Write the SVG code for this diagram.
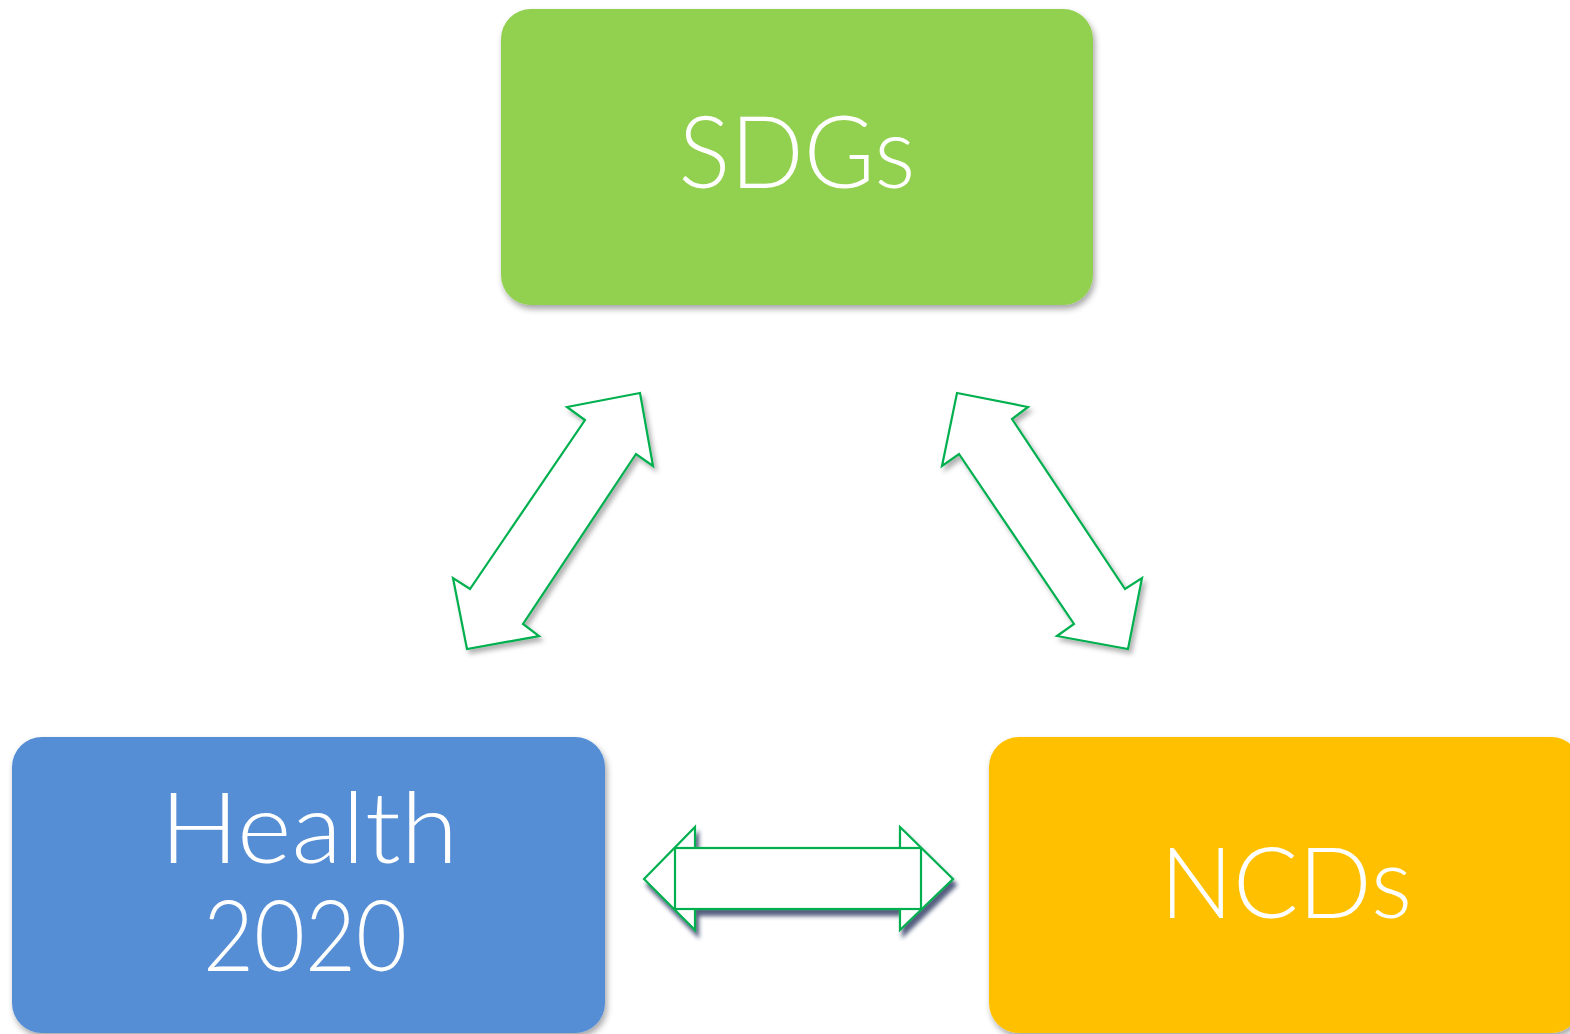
<svg xmlns="http://www.w3.org/2000/svg" width="1570" height="1034" viewBox="0 0 1570 1034">
  <defs>
    <filter id="boxShadow" x="-10%" y="-10%" width="120%" height="125%">
      <feDropShadow dx="2" dy="4" stdDeviation="3" flood-color="#000" flood-opacity="0.35"/>
    </filter>
    <filter id="arrowShadow" x="-20%" y="-20%" width="140%" height="140%">
      <feDropShadow dx="3" dy="4" stdDeviation="2.5" flood-color="#000" flood-opacity="0.3"/>
    </filter>
    <filter id="barShadow" x="-10%" y="-20%" width="120%" height="150%">
      <feDropShadow dx="3" dy="6" stdDeviation="2.2" flood-color="#1f2a55" flood-opacity="0.75"/>
    </filter>
  </defs>
  <style>
    .box { filter: url(#boxShadow); }
    .label { font-family: "Lato", "Open Sans", "Liberation Sans", sans-serif; font-weight: 300; fill: #ffffff; text-anchor: middle; }
    .arrow { fill: #ffffff; stroke: #00b050; stroke-width: 2.2; stroke-linejoin: miter; }
  </style>

  <rect width="1570" height="1034" fill="#ffffff"/>

  <!-- top node -->
  <g id="node-sdgs">
    <rect class="box" x="501" y="9" width="592" height="296" rx="30" fill="#92d050"/>
    <text class="label" x="797" y="188" font-size="100" textLength="237" lengthAdjust="spacingAndGlyphs">SDGs</text>
  </g>

  <!-- bottom-left node -->
  <g id="node-health2020">
    <rect class="box" x="12" y="737" width="593" height="296" rx="30" fill="#558ed5"/>
    <text class="label" x="309" y="863" font-size="98" textLength="298" lengthAdjust="spacingAndGlyphs">Health</text>
    <text class="label" x="305" y="971" font-size="98" textLength="204" lengthAdjust="spacingAndGlyphs">2020</text>
  </g>

  <!-- bottom-right node -->
  <g id="node-ncds">
    <rect class="box" x="989" y="737" width="592" height="296" rx="30" fill="#ffc000"/>
    <text class="label" x="1286" y="918" font-size="98" textLength="252" lengthAdjust="spacingAndGlyphs">NCDs</text>
  </g>

  <!-- two-headed block arrows between the nodes -->
  <g id="connectors">
    <polygon class="arrow" filter="url(#arrowShadow)"
      points="640,393 567,407 585,420 470,589 453,578 467,649 539,636 523,624 636,454 653,466"/>
    <polygon class="arrow" filter="url(#arrowShadow)"
      points="957,393 1028,407 1012,419 1125,589 1142,578 1128,649 1057,636 1074,624 959,454 942,466"/>
    <g filter="url(#barShadow)">
      <polygon class="arrow" points="644,879 695,827 695,930"/>
      <polygon class="arrow" points="900,827 953,879 900,930"/>
      <rect class="arrow" x="675" y="848" width="246" height="61"/>
    </g>
  </g>
</svg>
